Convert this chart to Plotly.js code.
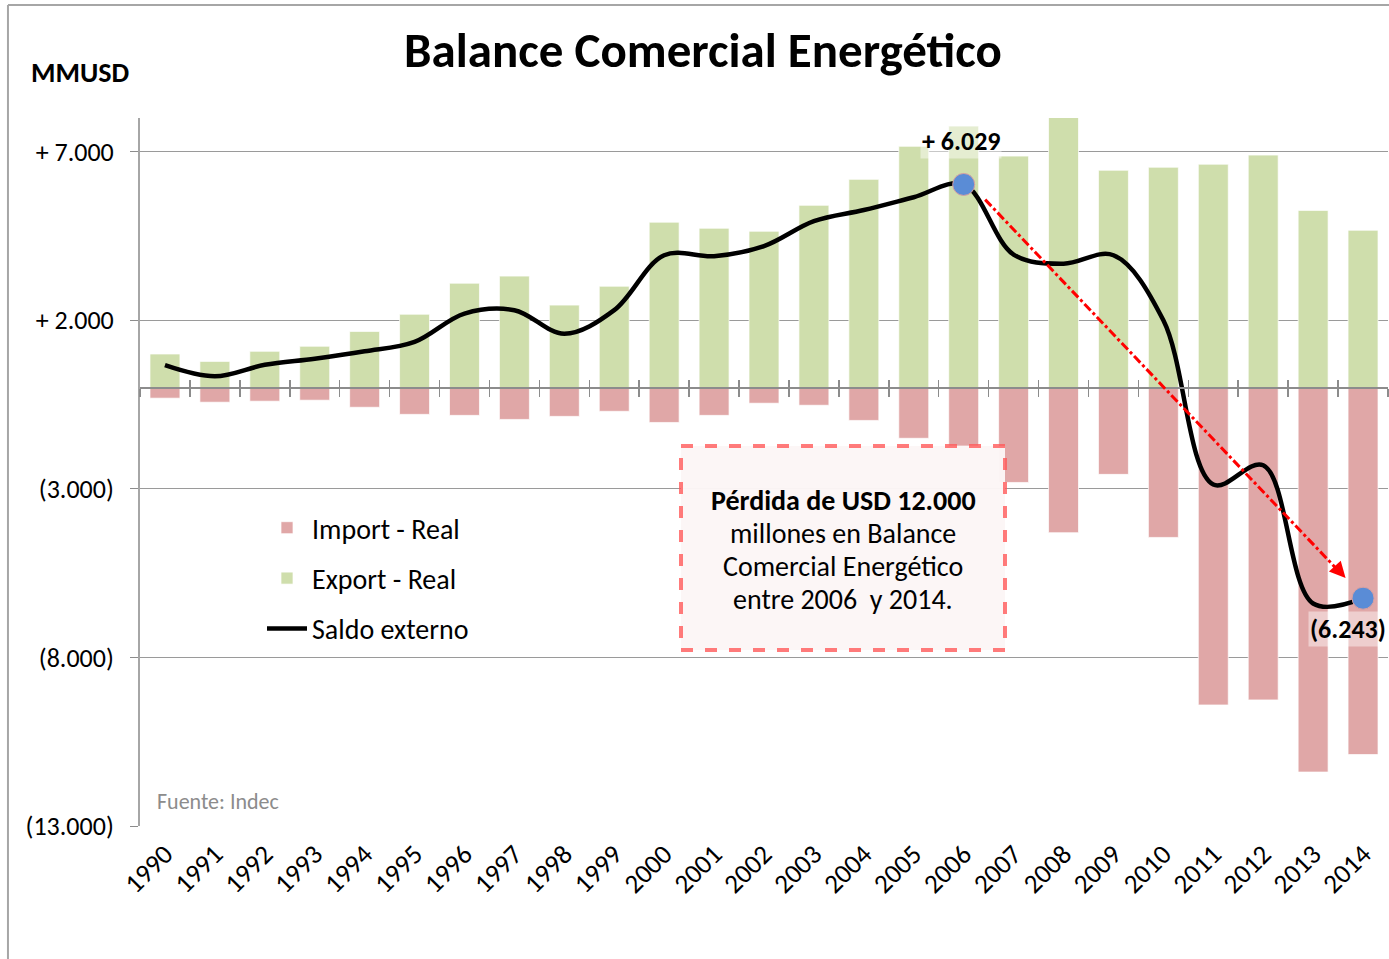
<!DOCTYPE html>
<html>
<head>
<meta charset="utf-8">
<script src="https://cdn.plot.ly/plotly-3.0.1.min.js"></script>
<style>html,body{margin:0;padding:0;background:#fff;}#chart{width:1389px;height:959px;}</style>
</head>
<body>
<div id="chart"></div>
<script>
const years = ['1990','1991','1992','1993','1994','1995','1996','1997','1998','1999','2000','2001','2002','2003','2004','2005','2006','2007','2008','2009','2010','2011','2012','2013','2014'];
const exportReal = [1000, 780, 1080, 1230, 1670, 2180, 3100, 3310, 2450, 3010, 4910, 4730, 4640, 5410, 6180, 7160, 7760, 6870, 8020, 6450, 6540, 6630, 6900, 5260, 4670];
const importReal = [-310, -430, -400, -370, -580, -790, -820, -940, -850, -700, -1030, -820, -460, -520, -970, -1500, -1730, -2810, -4300, -2570, -4440, -9410, -9260, -11400, -10880];
const saldoExterno = [670, 340, 680, 860, 1080, 1360, 2200, 2300, 1600, 2300, 3930, 3900, 4200, 4940, 5270, 5650, 6029, 3950, 3680, 3930, 2000, -2870, -2300, -6400, -6243];
const yTickVals = [7000, 2000, -3000, -8000, -13000];
const yTickText = ['+ 7.000', '+ 2.000', '(3.000)', '(8.000)', '(13.000)'];
const highlightYears = ['2006', '2014'];
const highlightLabels = ['+ 6.029', '(6.243)'];
const boxLines = ['<b>Pérdida de USD 12.000</b>', 'millones en Balance', 'Comercial Energético', 'entre 2006  y 2014.'];

const FONT = 'Carlito, Lato, "Liberation Sans", sans-serif';
const hlIdx = highlightYears.map(y => years.indexOf(y));
const hlVals = hlIdx.map(i => saldoExterno[i]);

const traces = [
  {type:'bar', name:'Import - Real', legendgroup:'g1', x:years, y:importReal, width:0.6,
   marker:{color:'#e0a7a7', line:{color:'rgba(255,255,255,0.7)', width:1}}, xaxis:'x', yaxis:'y'},
  {type:'bar', name:'Export - Real', legendgroup:'g2', x:years, y:exportReal, width:0.6,
   marker:{color:'#cfdeac', line:{color:'rgba(255,255,255,0.7)', width:1}}, xaxis:'x', yaxis:'y'},
  {type:'scatter', mode:'lines', name:'Saldo externo', legendgroup:'g3', x:years, y:saldoExterno,
   line:{color:'#000', width:4.5, shape:'spline', smoothing:1}, xaxis:'x2', yaxis:'y'},
  {type:'scatter', mode:'markers', x:highlightYears, y:hlVals, showlegend:false,
   marker:{color:'#5a8cd6', size:22, line:{color:'#d9a0a0', width:1}}, xaxis:'x3', yaxis:'y'}
];

const catAxisBase = {type:'category', categoryorder:'array', categoryarray:years, range:[-0.5, 24.5], fixedrange:true};
const zeroPos = 13000/21000;

const i0 = hlIdx[0], i1 = hlIdx[1];
const shapes = [
  {type:'line', xref:'paper', yref:'paper', x0:-0.1058, x1:1.01, y0:1.1596, y1:1.1596, line:{color:'#a6a6a6', width:2}},
  {type:'line', xref:'paper', yref:'paper', x0:-0.1058, x1:-0.1058, y0:1.1596, y1:-0.19, line:{color:'#a6a6a6', width:2}},
  {type:'line', xref:'x', yref:'y', x0:i0+0.43, y0:saldoExterno[i0]-450, x1:i1-0.42, y1:saldoExterno[i1]+700,
   line:{color:'#ff0000', width:3, dash:'dashdot'}, layer:'above'},
  {type:'rect', xref:'paper', yref:'paper', x0:(681-140)/1248, x1:(1005-140)/1248, y0:(826-650)/708, y1:(826-446)/708,
   fillcolor:'rgba(252,246,246,0.97)', line:{color:'rgba(255,90,90,0.8)', width:4, dash:'dash'}, layer:'above'}
];

const annotations = [
  {xref:'x', yref:'y', x:i1-0.35, y:saldoExterno[i1]+600, ax:-10, ay:-11, axref:'pixel', ayref:'pixel',
   text:'', showarrow:true, arrowhead:2, arrowsize:1.6, arrowwidth:2, arrowcolor:'#ff0000', standoff:0},
  {xref:'x', yref:'y', x:i0, y:hlVals[0], yshift:43, xshift:-3, text:'<b>'+highlightLabels[0]+'</b>',
   showarrow:false, font:{family:FONT, size:26, color:'#000'}, bgcolor:'rgba(255,255,255,0.45)'},
  {xref:'x', yref:'y', x:i1, y:hlVals[1], yshift:-31, xshift:-15, text:'<b>'+highlightLabels[1]+'</b>',
   showarrow:false, font:{family:FONT, size:26, color:'#000'}, bgcolor:'rgba(255,255,255,0.45)'},
  {xref:'paper', yref:'paper', x:(155-140)/1248, y:(826-801)/708, xanchor:'left', yanchor:'middle',
   text:'Fuente: Indec', showarrow:false, font:{family:FONT, size:22, color:'#8c8c8c'}},
  {xref:'paper', yref:'paper', x:(29-140)/1248, y:(826-72)/708, xanchor:'left', yanchor:'middle',
   text:'<b>MMUSD</b>', showarrow:false, font:{family:FONT, size:28, color:'#000'}}
];
boxLines.forEach((t, k) => {
  annotations.push({xref:'paper', yref:'paper', x:(843-140)/1248, y:(826-(500+33*k))/708, xanchor:'center', yanchor:'middle',
    text:t, showarrow:false, align:'center', font:{family:FONT, size:28, color:'#000'}});
});

const layout = {
  width:1389, height:959,
  margin:{l:140, r:1, t:118, b:133},
  paper_bgcolor:'#fff', plot_bgcolor:'#fff',
  font:{family:FONT, size:22, color:'#000'},
  title:{text:'<b>Balance Comercial Energético</b>', x:703/1389, xanchor:'center', y:1-50/959, yanchor:'middle',
         font:{family:FONT, size:49, color:'#000'}},
  barmode:'relative',
  showlegend:true,
  legend:{x:(262-140)/1248, y:(826-503)/708, xanchor:'left', yanchor:'top', bgcolor:'rgba(0,0,0,0)',
          font:{family:FONT, size:28, color:'#000'}, traceorder:'grouped', tracegroupgap:11, itemwidth:40},
  xaxis:Object.assign({}, catAxisBase, {showline:false, showgrid:false, ticks:'', tickangle:-45,
         ticklabelstandoff:6, tickfont:{family:FONT, size:27, color:'#000'}, anchor:'y'}),
  xaxis2:Object.assign({}, catAxisBase, {overlaying:'x', anchor:'free', position:zeroPos, side:'bottom',
         showline:true, linecolor:'#8c8c8c', linewidth:2, showgrid:false, ticks:'outside', ticklen:8, tickwidth:1.5,
         tickcolor:'#8c8c8c', tickson:'boundaries', showticklabels:false}),
  xaxis3:Object.assign({}, catAxisBase, {overlaying:'x', anchor:'free', position:zeroPos, side:'bottom',
         showline:false, showgrid:false, ticks:'inside', ticklen:8, tickwidth:1.5,
         tickcolor:'#8c8c8c', tickson:'boundaries', showticklabels:false}),
  yaxis:{range:[-13000, 8000], tickmode:'array', tickvals:yTickVals, ticktext:yTickText,
         showgrid:true, gridcolor:'#9a9a9a', gridwidth:1, zeroline:false,
         showline:true, linecolor:'#a6a6a6', linewidth:2, ticks:'outside', ticklen:8, tickcolor:'#8c8c8c',
         ticklabelstandoff:11,
         tickfont:{family:FONT, size:26, color:'#000'}, fixedrange:true},
  shapes:shapes,
  annotations:annotations
};

Plotly.newPlot('chart', traces, layout, {displayModeBar:false, staticPlot:true});
</script>
</body>
</html>
